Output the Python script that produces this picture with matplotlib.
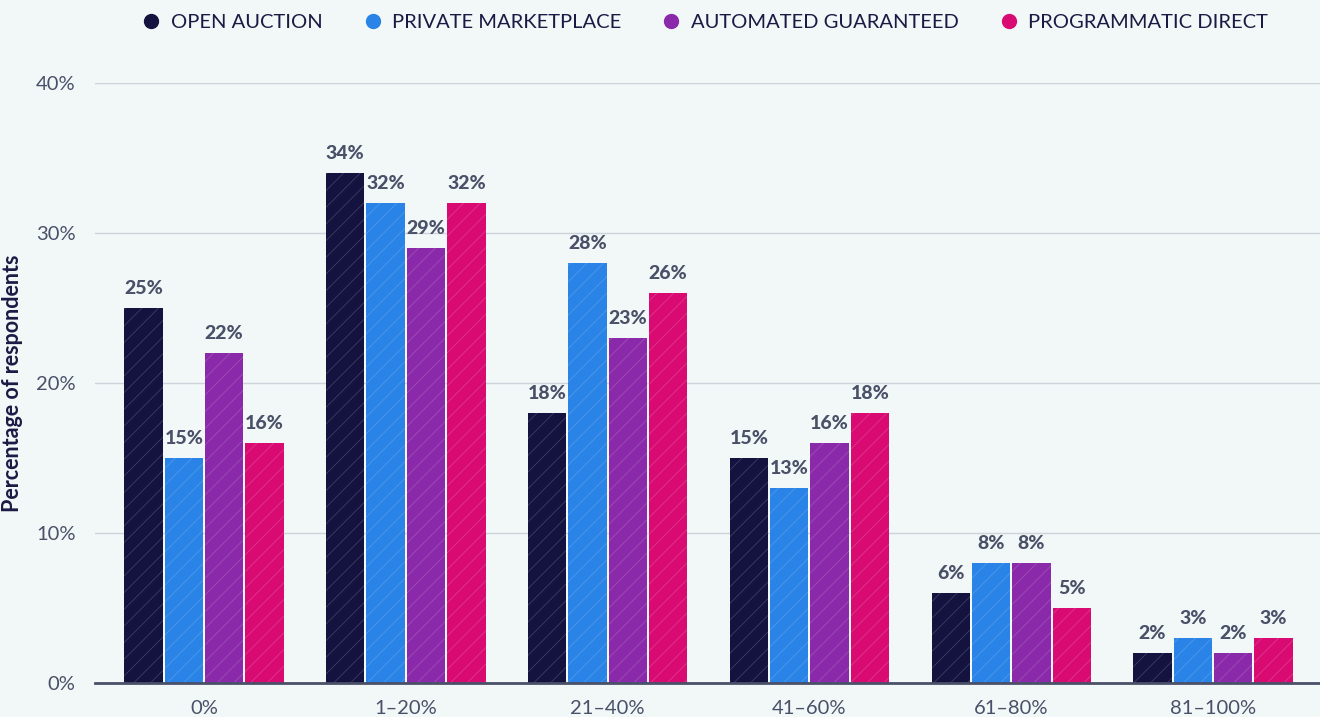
import numpy as np
import matplotlib.pyplot as plt
from matplotlib.lines import Line2D

categories = ["0%", "1–20%", "21–40%", "41–60%", "61–80%", "81–100%"]
series = ["OPEN AUCTION", "PRIVATE MARKETPLACE", "AUTOMATED GUARANTEED", "PROGRAMMATIC DIRECT"]
open_auction = [25, 34, 18, 15, 6, 2]
private_marketplace = [15, 32, 28, 13, 8, 3]
automated_guaranteed = [22, 29, 23, 16, 8, 2]
programmatic_direct = [16, 32, 26, 18, 5, 3]
values = [open_auction, private_marketplace, automated_guaranteed, programmatic_direct]
colors = ["#14133f", "#2a83e6", "#8a29a9", "#d90b73"]

bg = "#f2f7f7"
text_dark = "#1b1a45"
text_gray = "#4a5068"

plt.rcParams['hatch.linewidth'] = 0.6

fig = plt.figure(figsize=(13.2, 7.17), dpi=100, facecolor=bg)
ax = fig.add_axes([0.072, 0.0474, 0.928, 0.8368], facecolor=bg)

x = np.arange(len(categories))
step = 0.2
width = 0.19
for i, (vals, c) in enumerate(zip(values, colors)):
    pos = x + (i - 1.5) * step
    ax.bar(pos, vals, width, color=c, edgecolor=(1, 1, 1, 0.18),
           linewidth=0, hatch='//', zorder=2)
    for p, v in zip(pos, vals):
        ax.text(p, v + 0.75, f"{v}%", ha='center', va='bottom',
                fontsize=14, fontweight='black', color=text_gray,
                family='Lato', zorder=3)

ax.set_xlim(-0.54, 5.53)
ax.set_ylim(0, 40)
ax.set_yticks([0, 10, 20, 30, 40])
ax.set_yticklabels(["0%", "10%", "20%", "30%", "40%"])
ax.set_xticks(x)
ax.set_xticklabels(categories)
ax.tick_params(axis='both', length=0, labelsize=14.5, labelcolor=text_gray)
ax.tick_params(axis='y', pad=14)
ax.tick_params(axis='x', pad=12)
for lab in ax.get_xticklabels() + ax.get_yticklabels():
    lab.set_family('Lato')

ax.yaxis.grid(True, color="#cdd3db", linewidth=1, zorder=0)
ax.set_axisbelow(True)
for s in ['top', 'right', 'left']:
    ax.spines[s].set_visible(False)
ax.spines['bottom'].set_color("#4a5068")
ax.spines['bottom'].set_linewidth(2)
ax.spines['bottom'].set_zorder(4)

ax.set_ylabel("Percentage of respondents", fontsize=15.5, fontweight='bold',
              color=text_dark, family='Lato')
ax.yaxis.set_label_coords(-0.0585, 0.5)

handles = [Line2D([0], [0], marker='o', linestyle='', markersize=10,
                  markerfacecolor=c, markeredgecolor=c) for c in colors]
leg = fig.legend(handles, series, loc='upper center', bbox_to_anchor=(0.533, 1.006),
                 ncol=4, frameon=False, handletextpad=0.35, handlelength=1.2,
                 columnspacing=1.9, labelcolor=text_dark,
                 prop={'family': 'Lato', 'size': 14.5})

fig.savefig("out.png", dpi=100, facecolor=bg)
